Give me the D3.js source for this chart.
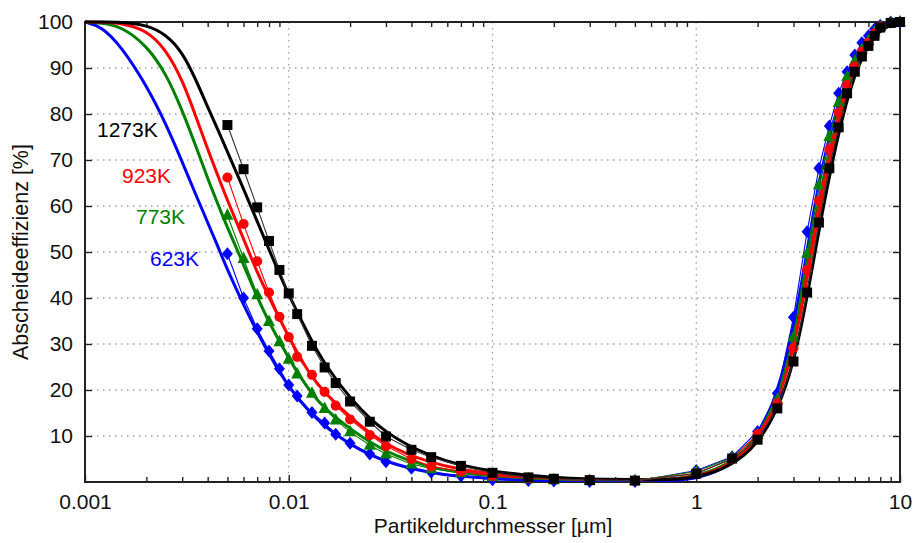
<!DOCTYPE html>
<html>
<head>
<meta charset="utf-8">
<script src="https://cdn.jsdelivr.net/npm/d3@7"></script>
<style>
  html, body { margin: 0; padding: 0; background: #fff; }
  svg { display: block; font-family: Arial, "Liberation Sans", sans-serif; }
</style>
</head>
<body>
<svg id="chart" width="914" height="543"></svg>
<script>
// Particle diameters [µm] of the measured points
const sizesMeasured = [0.005, 0.006, 0.007, 0.008, 0.009, 0.01, 0.011, 0.013, 0.015, 0.017, 0.02, 0.025, 0.03, 0.04, 0.05, 0.07, 0.1, 0.15, 0.2, 0.3, 0.5, 1, 1.5, 2, 2.5, 3, 3.5, 4, 4.5, 5, 5.5, 6, 6.5, 7, 7.5, 8, 9, 10];

// Measured separation efficiency [%] per temperature
const meas1273 = [77.6, 68.0, 59.7, 52.4, 46.1, 41.0, 36.5, 29.6, 24.9, 21.5, 17.5, 13.1, 9.9, 7.0, 5.4, 3.5, 2.0, 1.0, 0.7, 0.4, 0.3, 1.8, 5.1, 9.2, 16.0, 26.2, 41.2, 56.4, 68.2, 77.1, 84.5, 89.2, 92.5, 94.8, 97.0, 98.8, 99.8, 100];
const meas923  = [66.2, 56.1, 48.0, 41.2, 35.9, 31.5, 27.2, 23.3, 19.6, 16.6, 13.6, 10.2, 7.8, 5.0, 3.4, 2.3, 1.3, 0.8, 0.6, 0.4, 0.3, 1.9, 5.0, 10.4, 17.1, 29.1, 46.1, 61.1, 72.3, 80.3, 86.3, 90.3, 93.5, 95.5, 97.5, 99.0, 99.8, 100];
const meas773  = [58.0, 48.6, 40.7, 34.9, 30.5, 26.7, 23.5, 19.3, 16.0, 13.5, 10.9, 8.0, 6.1, 3.9, 2.9, 2.0, 1.2, 0.7, 0.5, 0.3, 0.3, 2.3, 5.3, 10.3, 18.0, 31.5, 49.7, 64.6, 75.1, 82.5, 88.1, 91.5, 94.0, 96.0, 97.8, 99.0, 99.8, 100];
const meas623  = [49.6, 40.0, 33.3, 28.5, 24.6, 21.1, 18.7, 15.1, 12.8, 10.4, 8.4, 6.1, 4.4, 3.0, 2.1, 1.3, 0.5, 0.3, 0.2, 0.1, 0.1, 2.5, 5.5, 11.0, 19.3, 35.8, 54.4, 68.2, 77.4, 84.5, 89.2, 92.8, 95.5, 97.0, 98.5, 99.3, 100, 100];

// Particle diameters [µm] of the model curves
const sizesModel = [0.001, 0.0012, 0.0015, 0.002, 0.0025, 0.003, 0.0035, 0.004, 0.0045, 0.005, 0.006, 0.007, 0.008, 0.01, 0.013, 0.015, 0.02, 0.03, 0.05, 0.07, 0.1, 0.2, 0.3, 0.5, 0.7, 1, 1.5, 2, 2.5, 3, 3.5, 4, 5, 6, 7, 8, 10];

// Model separation efficiency [%] per temperature
const model1273 = [100, 100, 100, 99.4, 97.3, 93.5, 87.5, 81.5, 76.5, 71.8, 63.7, 56.7, 50.5, 40.5, 30.5, 25.7, 18.0, 10.3, 5.5, 3.6, 2.2, 0.9, 0.6, 0.5, 0.5, 0.8, 3.5, 8.2, 15.5, 25.5, 40.0, 55.0, 76.5, 89.0, 95.0, 98.5, 100];
const model923  = [100, 100, 99.8, 98.3, 94.0, 87.5, 79.5, 72.3, 66.5, 61.2, 52.9, 45.5, 40.2, 31.4, 22.5, 19.5, 14.0, 7.8, 4.1, 2.7, 1.7, 0.7, 0.5, 0.45, 0.5, 1.0, 3.8, 9.0, 17.0, 28.5, 44.0, 59.0, 79.0, 90.5, 96.0, 98.7, 100];
const model773  = [100, 99.8, 99.1, 95.0, 88.8, 80.8, 73.0, 66.0, 60.3, 55.3, 47.3, 40.1, 34.7, 26.8, 19.0, 16.0, 11.5, 6.3, 3.1, 2.0, 1.3, 0.6, 0.45, 0.4, 0.5, 1.2, 4.0, 9.5, 18.0, 30.0, 47.0, 62.0, 81.0, 91.0, 96.5, 99.0, 100];
const model623  = [100, 99.1, 94.8, 86.3, 77.8, 69.6, 62.4, 56.4, 51.1, 46.1, 38.5, 32.6, 27.8, 20.4, 14.6, 12.2, 8.0, 4.2, 1.9, 1.2, 0.7, 0.3, 0.2, 0.2, 0.25, 0.5, 3.5, 9.5, 19.0, 33.0, 50.0, 66.0, 83.0, 92.5, 97.0, 99.0, 100];

const seriesNames = ["623K", "773K", "923K", "1273K"];
const seriesColors = ["#0000ff", "#008000", "#ff0000", "#000000"];
const thinColors = ["#0000ff", "#008000", "#ff0000", "#333333"];
const seriesMarkers = ["diamond", "triangle", "circle", "square"];
const measuredSets = [meas623, meas773, meas923, meas1273];
const modelSets = [model623, model773, model923, model1273];

const yTicks = [10, 20, 30, 40, 50, 60, 70, 80, 90, 100];
const xMajorTicks = [0.001, 0.01, 0.1, 1, 10];
const xTickLabels = ["0.001", "0.01", "0.1", "1", "10"];

const svg = d3.select("#chart");
const W = 914, H = 543;
const m = { left: 85, right: 14, top: 22, bottom: 61 };
const x = d3.scaleLog().domain([0.001, 10]).range([m.left, W - m.right]);
const y = d3.scaleLinear().domain([0, 100]).range([H - m.bottom, m.top]);

svg.append("rect").attr("width", W).attr("height", H).attr("fill", "#fff");

// Dotted grid
const grid = svg.append("g").attr("stroke", "#a0a0a0").attr("stroke-width", 1.3)
  .attr("stroke-dasharray", "1.5,4.5").attr("fill", "none");
grid.selectAll("line.gy").data(yTicks.filter(v => v < 100)).join("line")
  .attr("x1", m.left).attr("x2", W - m.right)
  .attr("y1", d => y(d)).attr("y2", d => y(d));
grid.selectAll("line.gx").data(xMajorTicks.slice(1, -1)).join("line")
  .attr("x1", d => x(d)).attr("x2", d => x(d))
  .attr("y1", m.top).attr("y2", H - m.bottom);

// Minor decade ticks
const xMinor = [];
for (let e = -3; e < 1; e++) for (let k = 2; k <= 9; k++) xMinor.push(k * Math.pow(10, e));

const axisColor = "#222";
function styleAxis(g) {
  g.select(".domain").remove();
  g.selectAll(".tick line").attr("stroke", axisColor).attr("stroke-width", 1.4);
  g.selectAll("text").attr("fill", "#111").style("font-size", "21px");
}

// Bottom axis
svg.append("g").attr("transform", `translate(0,${H - m.bottom})`)
  .call(d3.axisBottom(x).tickValues(xMinor).tickSize(-5).tickFormat(""))
  .call(styleAxis);
svg.append("g").attr("transform", `translate(0,${H - m.bottom})`)
  .call(d3.axisBottom(x).tickValues(xMajorTicks).tickSize(-7).tickPadding(12)
    .tickFormat((d, i) => xTickLabels[i]))
  .call(styleAxis);
// Top axis
svg.append("g").attr("transform", `translate(0,${m.top})`)
  .call(d3.axisTop(x).tickValues(xMinor).tickSize(-5).tickFormat(""))
  .call(styleAxis);
// Left axis
svg.append("g").attr("transform", `translate(${m.left},0)`)
  .call(d3.axisLeft(y).tickValues(yTicks).tickSize(-7).tickPadding(12).tickFormat(d3.format("d")))
  .call(styleAxis);
// Right axis
svg.append("g").attr("transform", `translate(${W - m.right},0)`)
  .call(d3.axisRight(y).tickValues(yTicks).tickSize(-7).tickFormat(""))
  .call(styleAxis);

// Frame
svg.append("rect").attr("x", m.left).attr("y", m.top)
  .attr("width", W - m.right - m.left).attr("height", H - m.bottom - m.top)
  .attr("fill", "none").attr("stroke", axisColor).attr("stroke-width", 2);

// Model curves (thick, smoothed)
svg.append("clipPath").attr("id", "plotclip").append("rect")
  .attr("x", m.left).attr("y", m.top - 2)
  .attr("width", W - m.right - m.left).attr("height", H - m.bottom - m.top + 2);

const modelLine = d3.line().x(d => x(d[0])).y(d => y(d[1])).curve(d3.curveBasis);
const plot = svg.append("g").attr("clip-path", "url(#plotclip)");
modelSets.forEach((vals, i) => {
  plot.append("path")
    .datum(sizesModel.map((s, j) => [s, vals[j]]))
    .attr("fill", "none").attr("stroke", seriesColors[i]).attr("stroke-width", 3)
    .attr("stroke-linejoin", "round").attr("d", modelLine);
});

// Measured points with thin connecting lines
const pointLine = d3.line().x(d => x(d[0])).y(d => y(d[1]));
function markerPath(kind) {
  if (kind === "square") return "M-5,-5H5V5H-5Z";
  if (kind === "circle") return d3.symbol(d3.symbolCircle, 80)();
  if (kind === "triangle") return "M0,-7L6,4.5L-6,4.5Z";
  return "M0,-6.5L5.5,0L0,6.5L-5.5,0Z";
}
measuredSets.forEach((vals, i) => {
  const pts = sizesMeasured.map((s, j) => [s, vals[j]]);
  const g = svg.append("g");
  g.append("path").datum(pts).attr("fill", "none")
    .attr("stroke", thinColors[i]).attr("stroke-width", 1.1).attr("d", pointLine);
  g.selectAll("path.pt").data(pts).join("path").attr("class", "pt")
    .attr("transform", d => `translate(${x(d[0])},${y(d[1])})`)
    .attr("d", markerPath(seriesMarkers[i]))
    .attr("fill", seriesColors[i]);
});

// Temperature labels
const labelPos = { "1273K": [97, 137], "923K": [122, 183], "773K": [136, 224], "623K": [150, 266] };
seriesNames.forEach((name, i) => {
  svg.append("text").attr("x", labelPos[name][0]).attr("y", labelPos[name][1])
    .attr("fill", seriesColors[i]).style("font-size", "21px").text(name);
});

// Axis titles
svg.append("text").attr("x", 493).attr("y", 533)
  .attr("text-anchor", "middle").style("font-size", "21px").attr("fill", "#111")
  .text("Partikeldurchmesser [µm]");
svg.append("text").attr("transform", `translate(28,252) rotate(-90)`)
  .attr("text-anchor", "middle").style("font-size", "21.5px").attr("fill", "#111")
  .text("Abscheideeffizienz [%]");
</script>
</body>
</html>
